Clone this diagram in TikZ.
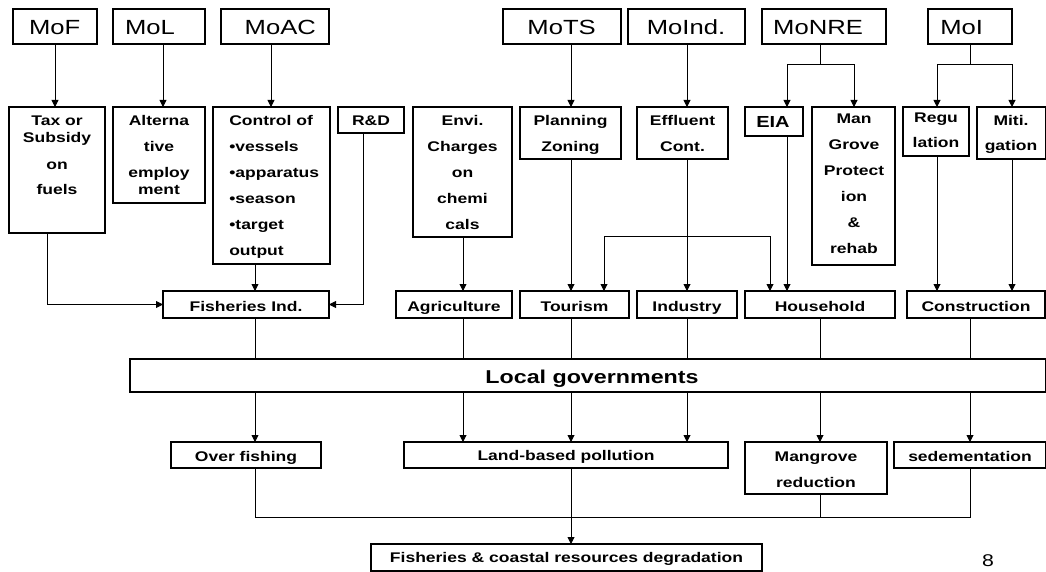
\documentclass[tikz,border=0pt]{standalone}
\usepackage{fontspec}
\setmainfont[FakeStretch=1.25]{Liberation Sans}
\usetikzlibrary{arrows.meta}
\newcommand\ml[1]{\begin{tabular}[t]{@{}c@{}}#1\end{tabular}}
\newcommand\mll[1]{\begin{tabular}[t]{@{}l@{}}#1\end{tabular}}
\newcommand\rbox[5]{\node[box, minimum width={#4pt-#2pt}, minimum height={#5pt-#3pt}] (#1) at (#2,#3) {};}
\tikzset{
  box/.style={draw, line width=1.1pt, inner sep=0pt, outer sep=0pt, anchor=north west},
  lbl/.style={inner sep=0pt, outer sep=0pt, anchor=base, font=\fontsize{14}{17}\selectfont\bfseries},
  toplbl/.style={inner sep=0pt, outer sep=0pt, anchor=base, font=\fontsize{20.5}{24}\selectfont},
  conn/.style={line width=0.9pt},
  arr/.style={conn, -{Triangle[length=7pt,width=7pt]}},
}
\begin{document}
\begin{tikzpicture}[x=1pt,y=-1pt]
\useasboundingbox (0,0) rectangle (1046,572);
\fill[white] (0,0) rectangle (1046,572);
% top row
\rbox{mof}{13}{9}{97}{44}
\rbox{mol}{113}{9}{205}{44}
\rbox{moac}{221}{9}{329}{44}
\rbox{mots}{503}{9}{621}{44}
\rbox{moind}{628}{9}{745}{44}
\rbox{monre}{762}{9}{886}{44}
\rbox{moi}{928}{9}{1012}{44}
\node[toplbl] (t-mof) at (54.7,35) {MoF};
\node[toplbl] (t-mol) at (150,35) {MoL};
\node[toplbl] (t-moac) at (280.3,35) {MoAC};
\node[toplbl] (t-mots) at (561.6,35) {MoTS};
\node[toplbl] (t-moind) at (686,35) {MoInd.};
\node[toplbl] (t-monre) at (818,35) {MoNRE};
\node[toplbl] (t-moi) at (961.6,35) {MoI};
% second row
\rbox{tax}{9}{107}{105}{233}
\rbox{alt}{113}{107}{205}{203}
\rbox{ctrl}{213}{107}{330}{264}
\rbox{rd}{338}{107}{404}{133}
\rbox{envi}{413}{107}{512}{237}
\rbox{plan}{520}{107}{621}{159}
\rbox{eff}{637}{107}{728}{159}
\rbox{eia}{745}{107}{803}{136}
\rbox{mang}{812}{107}{895}{265}
\rbox{reg}{903}{107}{969}{156}
\rbox{mit}{977}{107}{1045.5}{159}
\node[lbl] (t-tax) at (57,126) {\ml{Tax or\\Subsidy\\[10pt]on\\[8pt]fuels}};
\node[lbl] (t-alt) at (159,126) {\ml{Alterna\\[9pt]tive\\[9pt]employ\\ment}};
\node[lbl, anchor=base west] (t-ctrl) at (229.3,126) {\mll{Control of\\[9pt]•vessels\\[9pt]•apparatus\\[9pt]•season\\[9pt]•target\\[9pt]output}};
\node[lbl] (t-rd) at (371,126) {R\&D};
\node[lbl] (t-envi) at (462.5,126) {\ml{Envi.\\[9pt]Charges\\[9pt]on\\[9pt]chemi\\[9pt]cals}};
\node[lbl] (t-plan) at (570.5,126) {\ml{Planning\\[9pt]Zoning}};
\node[lbl] (t-eff) at (682.5,126) {\ml{Effluent\\[9pt]Cont.}};
\node[lbl, font=\fontsize{16}{19}\selectfont\bfseries] (t-eia) at (773,128) {EIA};
\node[lbl] (t-mang) at (854,124) {\ml{Man\\[9pt]Grove\\[9pt]Protect\\[9pt]ion\\[9pt]\&\\[9pt]rehab}};
\node[lbl] (t-reg) at (936,123) {\ml{Regu\\[8pt]lation}};
\node[lbl] (t-mit) at (1011,126) {\ml{Miti.\\[8pt]gation}};
% third row
\rbox{fish}{163}{291}{329}{318}
\rbox{agri}{396}{291}{512}{318}
\rbox{tour}{520}{291}{629}{318}
\rbox{ind}{637}{291}{737}{318}
\rbox{house}{745}{291}{895}{318}
\rbox{cons}{907}{291}{1045}{318}
\node[lbl] (t-fish) at (246,311) {Fisheries Ind.};
\node[lbl] (t-agri) at (454,311) {Agriculture};
\node[lbl] (t-tour) at (574.5,311) {Tourism};
\node[lbl] (t-ind) at (687,311) {Industry};
\node[lbl] (t-house) at (820,311) {Household};
\node[lbl] (t-cons) at (976,311) {Construction};
% local governments
\rbox{local}{130}{359}{1045.5}{392}
\node[lbl, font=\fontsize{18.6}{22}\selectfont\bfseries] (t-local) at (592,383) {Local governments};
% fourth row
\rbox{over}{171}{442}{321}{468}
\rbox{land}{404}{442}{728}{468}
\rbox{mred}{745}{442}{887}{494}
\rbox{sed}{894}{442}{1045.5}{468}
\node[lbl] (t-over) at (246,461) {Over fishing};
\node[lbl] (t-land) at (566,460) {Land-based pollution};
\node[lbl] (t-mred) at (816,461) {\ml{Mangrove\\[9pt]reduction}};
\node[lbl] (t-sed) at (970,461) {sedementation};
% bottom
\rbox{deg}{371}{544}{762}{571}
\node[lbl] (t-deg) at (566.5,562.7) {Fisheries \& coastal resources degradation};
\node[toplbl, font=\fontsize{17}{20}\selectfont] (pg) at (988,566) {8};
% connectors: ministries to instruments
\draw[arr] (mof.south) -- (mof.south |- tax.north);
\draw[arr] (163,0 |- mol.south) -- (163,0 |- alt.north);
\draw[arr] (271,0 |- moac.south) -- (271,0 |- ctrl.north);
\draw[arr] (571,0 |- mots.south) -- (571,0 |- plan.north);
\draw[arr] (687,0 |- moind.south) -- (687,0 |- eff.north);
\draw[arr] (820,0 |- monre.south) -- (820,64) -| (787,0 |- eia.north);
\draw[arr] (820,64) -| (854,0 |- mang.north);
\draw[arr] (970,0 |- moi.south) -- (970,64) -| (937,0 |- reg.north);
\draw[arr] (970,64) -| (1012,0 |- mit.north);
% instruments to sectors
\draw[arr] (47,0 |- tax.south) |- (fish.west);
\draw[arr] (255,0 |- ctrl.south) -- (255,0 |- fish.north);
\draw[arr] (363,0 |- rd.south) |- (fish.east);
\draw[arr] (463,0 |- envi.south) -- (463,0 |- agri.north);
\draw[arr] (571,0 |- plan.south) -- (571,0 |- tour.north);
\draw[arr] (687,0 |- eff.south) -- (687,0 |- ind.north);
\draw[arr] (687,236) -| (604,0 |- tour.north);
\draw[arr] (687,236) -| (770,0 |- house.north);
\draw[arr] (787,0 |- eia.south) -- (787,0 |- house.north);
\draw[arr] (937,0 |- reg.south) -- (937,0 |- cons.north);
\draw[arr] (1012,0 |- mit.south) -- (1012,0 |- cons.north);
% sectors to local governments
\draw[conn] (255,0 |- fish.south) -- (255,0 |- local.north);
\draw[conn] (463,0 |- agri.south) -- (463,0 |- local.north);
\draw[conn] (571,0 |- tour.south) -- (571,0 |- local.north);
\draw[conn] (687,0 |- ind.south) -- (687,0 |- local.north);
\draw[conn] (820,0 |- house.south) -- (820,0 |- local.north);
\draw[conn] (970,0 |- cons.south) -- (970,0 |- local.north);
% local governments to impacts
\draw[arr] (255,0 |- local.south) -- (255,0 |- over.north);
\draw[arr] (463,0 |- local.south) -- (463,0 |- land.north);
\draw[arr] (571,0 |- local.south) -- (571,0 |- land.north);
\draw[arr] (687,0 |- local.south) -- (687,0 |- land.north);
\draw[arr] (820,0 |- local.south) -- (820,0 |- mred.north);
\draw[arr] (970,0 |- local.south) -- (970,0 |- sed.north);
% impacts to degradation
\draw[conn] (255,0 |- over.south) -- (255,517) -- (970,517) -- (970,0 |- sed.south);
\draw[conn] (820,0 |- mred.south) -- (820,517);
\draw[arr] (571,0 |- land.south) -- (571,0 |- deg.north);
\end{tikzpicture}
\end{document}
